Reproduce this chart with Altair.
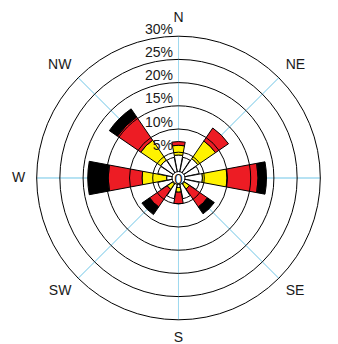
import math
import altair as alt
import pandas as pd

# ---- data ----
directions = ["N", "NNE", "NE", "ENE", "E", "ESE", "SE", "SSE",
              "S", "SSW", "SW", "WSW", "W", "WNW", "NW", "NNW"]
speed_classes = ["class 1", "class 2", "class 3", "class 4"]
class_colors = ["#ffffff", "#fff200", "#ed1c24", "#000000"]

# frequency (%) of each speed class per direction
white_f  = [4.4, 4.0, 4.5, 4.0, 4.6, 4.0, 1.0, 4.0, 1.5, 4.0, 1.0, 4.0, 2.0, 4.0, 4.1, 4.0]
yellow_f = [2.1, 0.0, 4.6, 0.0, 5.3, 0.0, 1.3, 0.0, 1.0, 0.0, 1.4, 0.0, 5.3, 0.0, 5.2, 0.0]
red_f    = [0.8, 0.0, 3.4, 0.0, 6.7, 0.0, 4.7, 0.0, 2.5, 0.0, 4.6, 0.0, 7.3, 0.0, 6.1, 0.0]
black_f  = [0.0, 0.0, 0.0, 0.0, 1.8, 0.0, 1.8, 0.0, 0.0, 0.0, 2.0, 0.0, 4.4, 0.0, 2.1, 0.0]

ring_values = [5, 10, 15, 20, 25, 30]
ring_labels = ["5%", "10%", "15%", "20%", "25%", "30%"]
compass_labels = ["N", "NE", "E", "SE", "S", "SW", "W", "NW"]
compass_angles = [0, 45, 90, 135, 180, 225, 270, 315]

# ---- tables ----
rows = []
for i, d in enumerate(directions):
    for k, series in enumerate([white_f, yellow_f, red_f, black_f]):
        if series[i] > 0:
            rows.append({"dir": d, "idx": i, "cls": speed_classes[k], "order": k, "freq": series[i]})
bars_df = pd.DataFrame(rows)
rings_df = pd.DataFrame({"ring": ring_values, "label": ring_labels})
compass_df = pd.DataFrame({"label": compass_labels, "angle": compass_angles})
one_df = pd.DataFrame({"v": [0]})

FONT = "Liberation Sans"
TXT = "#1a1a1a"
CX, CY = 170.5, 170
TWO_PI = 2 * math.pi

rscale = alt.Scale(type="linear", domain=[0, 30], range=[2.6, 141.8])
tscale = alt.Scale(type="linear", domain=[0, 360], range=[0, TWO_PI])
cx = alt.value(CX)
cy = alt.value(CY)

spokes = alt.Chart(compass_df).transform_calculate(
    a2="datum.angle + 0.01", rr="30"
).mark_arc(fillOpacity=0, stroke="#9fd9ef", strokeWidth=1).encode(
    x=cx, y=cy,
    theta=alt.Theta("angle:Q", scale=tscale, stack=None),
    theta2="a2:Q",
    radius=alt.Radius("rr:Q", scale=rscale, stack=None),
)

bars = alt.Chart(bars_df).transform_window(
    cum="sum(freq)", groupby=["dir"], sort=[alt.SortField("order")], frame=[None, 0]
).transform_calculate(
    r0="datum.cum - datum.freq",
    a0="datum.idx * 22.5 - 10.6",
    a1="datum.idx * 22.5 + 10.6",
).mark_arc(stroke="black", strokeWidth=1).encode(
    x=cx, y=cy,
    theta=alt.Theta("a0:Q", scale=tscale, stack=None),
    theta2="a1:Q",
    radius=alt.Radius("cum:Q", scale=rscale, stack=None),
    radius2="r0:Q",
    color=alt.Color("cls:N", scale=alt.Scale(domain=speed_classes, range=class_colors), legend=None),
)

rings = alt.Chart(rings_df).mark_arc(
    fillOpacity=0, stroke="black", strokeWidth=1, theta=0, theta2=TWO_PI
).encode(
    x=cx, y=cy,
    radius=alt.Radius("ring:Q", scale=rscale, stack=None),
)

center = alt.Chart(one_df).mark_arc(
    radius=6.5, theta=0, theta2=TWO_PI, fill="white", stroke="black", strokeWidth=1
).encode(x=cx, y=cy)

zero = alt.Chart(one_df).mark_text(
    text="0", font=FONT, fontSize=15, color=TXT, baseline="middle", align="center", dy=0.5
).encode(x=cx, y=cy)

pct = alt.Chart(rings_df).mark_text(
    font=FONT, fontSize=14, color=TXT, align="right", baseline="alphabetic", dx=-5.5, dy=-2.5
).encode(
    x=cx, y=cy,
    theta=alt.value(0),
    radius=alt.Radius("ring:Q", scale=rscale, stack=None),
    text="label:N",
)


def compass_layer(labels, align, dx):
    return alt.Chart(compass_df).transform_filter(
        alt.FieldOneOfPredicate(field="label", oneOf=labels)
    ).mark_text(
        font=FONT, fontSize=14, color=TXT, align=align, baseline="middle", dx=dx
    ).encode(
        x=cx, y=cy,
        theta=alt.Theta("angle:Q", scale=tscale, stack=None),
        radius=alt.value(160),
        text="label:N",
    )


compass_c = compass_layer(["N", "E", "S", "W"], "center", 0)
compass_r = compass_layer(["NE", "SE"], "left", -6)
compass_l = compass_layer(["NW", "SW"], "right", 6)

chart = alt.layer(spokes, bars, rings, center, zero, pct, compass_c, compass_r, compass_l).properties(
    width=322, height=336, padding=0, autosize="none"
).configure_view(stroke="transparent")

chart.save("out.html", embed_options={"renderer": "svg", "actions": False})
